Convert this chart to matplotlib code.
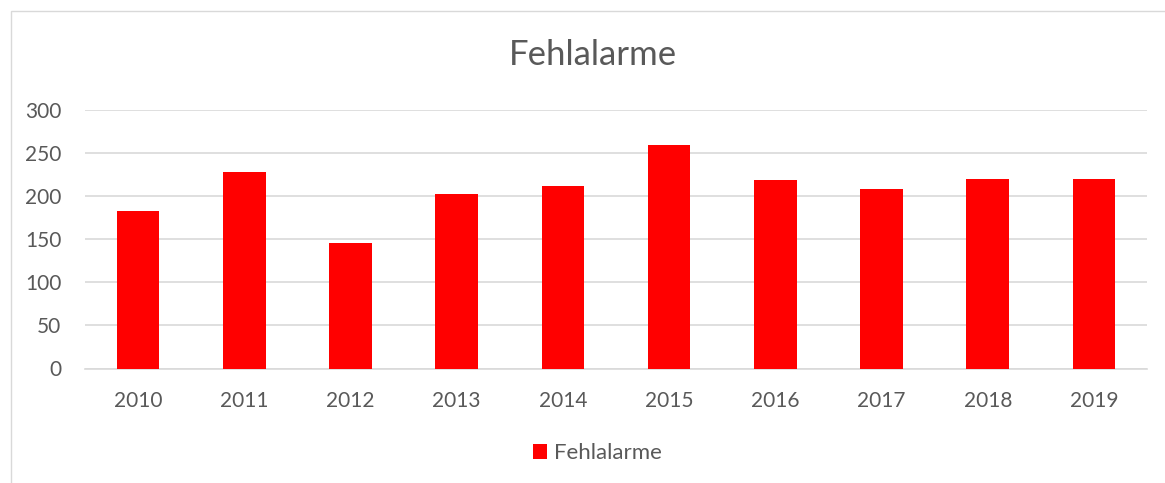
import matplotlib
matplotlib.use("Agg")
import matplotlib.pyplot as plt
import numpy as np
from matplotlib.patches import Rectangle

years = ["2010", "2011", "2012", "2013", "2014", "2015", "2016", "2017", "2018", "2019"]
fehlalarme = [183, 228, 146, 203, 212, 259, 219, 208, 220, 220]

plt.rcParams['font.family'] = ['Lato', 'DejaVu Sans']
txt = '#595959'
grid = '#d9d9d9'

W, H = 1165, 483
fig = plt.figure(figsize=(W / 100, H / 100), dpi=100)
# plot area in pixels: x 85..1147, y 110..368
ax = fig.add_axes([85 / W, 1 - 368.5 / H, (1147 - 85) / W, (368.5 - 110) / H])

# chart border
fig.patches.append(Rectangle((11 / W, -0.1), 1.2, 1 - 11 / H + 0.1, transform=fig.transFigure,
                             fill=False, edgecolor=grid, linewidth=1))

x = np.arange(len(years))
ax.bar(x, fehlalarme, width=0.4, color='#ff0000', label='Fehlalarme', zorder=3)
ax.set_xlim(-0.5, len(years) - 0.5)
ax.set_ylim(0, 300)
ax.set_yticks(range(0, 301, 50))
ax.set_xticks(x)
ax.set_xticklabels(years)
ax.grid(axis='y', color=grid, linewidth=1.2, zorder=0)
for s in ['top', 'right', 'left']:
    ax.spines[s].set_visible(False)
ax.spines['bottom'].set_color(grid)
ax.spines['bottom'].set_linewidth(1.2)
ax.tick_params(length=0, colors=txt, labelsize=15)
ax.tick_params(axis='x', pad=16)
ax.tick_params(axis='y', pad=17)

fig.text(593 / W, 1 - 55 / H, 'Fehlalarme', ha='center', va='center', fontsize=25, color=txt)

fig.legend(loc='center', bbox_to_anchor=(597 / W, 1 - 453 / H), frameon=False,
           fontsize=16, labelcolor=txt, handlelength=0.65, handleheight=0.65, handletextpad=0.3)

fig.savefig('out.png', dpi=100)
